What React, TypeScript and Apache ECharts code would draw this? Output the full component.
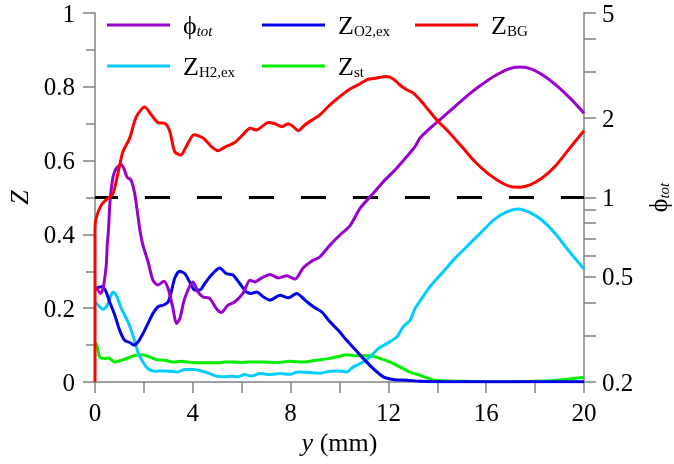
import React, { useEffect, useRef } from "react";
import * as echarts from "echarts";

const FONT = "Liberation Serif";

// y (mm) positions and values
const bgX = [0, 0, 0.01, 0.26, 0.53, 0.74, 0.94, 1.14, 1.42, 1.69, 2.03, 2.3, 2.58, 2.85, 3.06, 3.26, 3.51, 3.73, 4.05, 4.42, 4.76, 5.03, 5.3, 5.71, 6.05, 6.34, 6.61, 6.82, 7.09, 7.36, 7.64, 7.91, 8.11, 8.31, 8.59, 8.93, 9.2, 9.61, 10.02, 10.43, 10.84, 11.11, 11.52, 11.93, 12.2, 12.47, 12.75, 13.02, 13.29, 13.63, 14.04, 14.45, 15.0, 15.54, 16.09, 16.63, 17.04, 17.38, 17.79, 18.27, 18.81, 19.36, 20];
const bgY = [0, 0.4, 0.43, 0.48, 0.498, 0.511, 0.566, 0.624, 0.661, 0.719, 0.745, 0.724, 0.703, 0.701, 0.679, 0.624, 0.615, 0.638, 0.67, 0.661, 0.638, 0.627, 0.636, 0.649, 0.67, 0.688, 0.683, 0.692, 0.703, 0.7, 0.692, 0.7, 0.692, 0.681, 0.697, 0.712, 0.724, 0.751, 0.774, 0.794, 0.808, 0.819, 0.824, 0.828, 0.821, 0.805, 0.792, 0.783, 0.765, 0.738, 0.706, 0.679, 0.638, 0.597, 0.564, 0.54, 0.529, 0.528, 0.534, 0.552, 0.584, 0.629, 0.681];

const phiX = [0.05, 0.23, 0.33, 0.46, 0.5, 0.55, 0.62, 0.74, 0.87, 1.07, 1.18, 1.32, 1.46, 1.62, 1.76, 1.85, 1.96, 2.17, 2.37, 2.58, 2.82, 2.99, 3.19, 3.33, 3.47, 3.67, 4.01, 4.21, 4.42, 4.69, 4.96, 5.17, 5.44, 5.71, 6.05, 6.34, 6.54, 6.82, 7.16, 7.5, 7.84, 8.18, 8.52, 8.86, 9.2, 9.61, 10.02, 10.43, 10.84, 11.38, 11.79, 12.34, 12.75, 13.09, 13.29, 13.63, 14.18, 14.72, 15.27, 15.81, 16.36, 16.9, 17.38, 17.86, 18.4, 18.95, 19.5, 20];
const phiY = [0.459, 0.433, 0.452, 0.554, 0.66, 0.75, 0.98, 1.2, 1.29, 1.33, 1.29, 1.19, 1.17, 1.04, 0.846, 0.74, 0.66, 0.571, 0.486, 0.466, 0.482, 0.452, 0.38, 0.333, 0.348, 0.415, 0.479, 0.439, 0.42, 0.415, 0.38, 0.367, 0.391, 0.402, 0.433, 0.486, 0.479, 0.496, 0.511, 0.496, 0.505, 0.491, 0.542, 0.574, 0.596, 0.66, 0.721, 0.782, 0.91, 1.037, 1.148, 1.291, 1.428, 1.559, 1.678, 1.804, 1.998, 2.211, 2.449, 2.673, 2.891, 3.065, 3.119, 3.065, 2.873, 2.619, 2.344, 2.087];

const o2X = [0, 0.05, 0.23, 0.4, 0.6, 0.81, 1.01, 1.21, 1.42, 1.6, 1.76, 1.96, 2.17, 2.37, 2.58, 2.78, 2.99, 3.12, 3.26, 3.46, 3.67, 3.87, 4.08, 4.28, 4.49, 4.76, 5.1, 5.37, 5.64, 5.92, 6.19, 6.39, 6.61, 6.88, 7.16, 7.57, 7.91, 8.25, 8.59, 8.93, 9.27, 9.61, 9.95, 10.29, 10.63, 10.97, 11.38, 11.79, 12.2, 12.75, 13.29, 14, 16, 18, 20];
const o2Y = [0.25, 0.253, 0.258, 0.252, 0.217, 0.181, 0.14, 0.113, 0.107, 0.1, 0.109, 0.131, 0.159, 0.186, 0.204, 0.208, 0.217, 0.244, 0.281, 0.3, 0.294, 0.271, 0.249, 0.249, 0.267, 0.29, 0.309, 0.294, 0.29, 0.267, 0.244, 0.24, 0.244, 0.231, 0.222, 0.235, 0.228, 0.24, 0.222, 0.204, 0.19, 0.163, 0.14, 0.113, 0.089, 0.064, 0.036, 0.014, 0.007, 0.005, 0.002, 0.001, 0.001, 0.001, 0.001];

const h2X = [0.01, 0.19, 0.33, 0.5, 0.74, 0.87, 1.08, 1.35, 1.55, 1.76, 1.96, 2.17, 2.44, 2.78, 3.12, 3.39, 3.67, 4.01, 4.35, 4.69, 4.96, 5.3, 5.57, 5.85, 6.12, 6.39, 6.75, 7.16, 7.57, 7.98, 8.31, 8.72, 9.2, 9.61, 10.02, 10.29, 10.56, 10.91, 11.25, 11.59, 11.93, 12.34, 12.61, 12.88, 13.09, 13.36, 13.7, 14.18, 14.72, 15.27, 15.81, 16.36, 16.84, 17.31, 17.79, 18.27, 18.81, 19.36, 20];
const h2Y = [0.217, 0.204, 0.197, 0.208, 0.244, 0.235, 0.199, 0.163, 0.127, 0.081, 0.054, 0.036, 0.029, 0.03, 0.029, 0.027, 0.034, 0.034, 0.03, 0.023, 0.016, 0.014, 0.016, 0.014, 0.02, 0.016, 0.023, 0.02, 0.023, 0.021, 0.027, 0.026, 0.024, 0.029, 0.03, 0.027, 0.041, 0.052, 0.068, 0.091, 0.104, 0.122, 0.15, 0.167, 0.199, 0.226, 0.258, 0.294, 0.335, 0.371, 0.407, 0.442, 0.461, 0.469, 0.459, 0.439, 0.403, 0.357, 0.306];

const stX = [0, 0.05, 0.19, 0.4, 0.56, 0.81, 1.08, 1.35, 1.62, 1.96, 2.23, 2.5, 2.85, 3.19, 3.53, 3.94, 4.49, 5.03, 5.3, 5.71, 5.98, 6.26, 6.61, 6.88, 7.43, 7.98, 8.52, 9.07, 9.61, 10.02, 10.29, 10.7, 11.25, 11.66, 12.07, 12.47, 12.88, 13.22, 13.56, 13.91, 14.45, 15, 16, 17, 18, 18.8, 19.4, 20];
const stY = [0.1, 0.104, 0.068, 0.064, 0.065, 0.054, 0.059, 0.065, 0.072, 0.074, 0.068, 0.061, 0.059, 0.054, 0.056, 0.053, 0.052, 0.052, 0.054, 0.054, 0.053, 0.054, 0.054, 0.054, 0.053, 0.056, 0.054, 0.059, 0.064, 0.07, 0.074, 0.071, 0.071, 0.064, 0.054, 0.041, 0.027, 0.02, 0.012, 0.005, 0.003, 0.002, 0.001, 0.001, 0.002, 0.004, 0.008, 0.013];

const refX = [0, 20];
const refY = [0.5, 0.5];

const zTicks = [0, 0.2, 0.4, 0.6, 0.8, 1];
const phiTickLabels = [0.2, 0.5, 1, 2, 5];
const phiTickMarks = [0.2, 0.3, 0.4, 0.5, 0.6, 0.7, 0.8, 0.9, 1, 2, 3, 4, 5];

const pairs = (xs: number[], ys: number[]) => xs.map((x, i) => [x, ys[i]]);

const AXIS_GRAY = "#808080";

const rich = {
  m: { fontSize: 26, lineHeight: 26, verticalAlign: "top", fontFamily: FONT, color: "#000", padding: [0, 0, 0, 8] },
  s: { fontSize: 15, lineHeight: 15, verticalAlign: "bottom", fontFamily: FONT, color: "#000", padding: [18, 0, 0, 0] },
  si: { fontSize: 15, lineHeight: 15, verticalAlign: "bottom", fontFamily: FONT, fontStyle: "italic", color: "#000", padding: [18, 0, 0, 0] },
};

const legendLabels: Record<string, string> = {
  "ϕtot": "{m|ϕ}{si|tot}",
  "ZO2,ex": "{m|Z}{s|O2,ex}",
  "ZBG": "{m|Z}{s|BG}",
  "ZH2,ex": "{m|Z}{s|H2,ex}",
  "Zst": "{m|Z}{s|st}",
};

const legendAt = (name: string, left: number, top: number) => ({
  data: [name],
  left,
  top,
  padding: 0,
  icon: "rect",
  itemWidth: 63,
  itemHeight: 3,
  selectedMode: false,
  formatter: (n: string) => legendLabels[n],
  textStyle: { fontFamily: FONT, rich },
});

export default function App() {
  const ref = useRef<HTMLDivElement>(null);
  useEffect(() => {
    document.body.style.margin = "0";
    const chart = echarts.init(ref.current!, null, { renderer: "svg" });
    const lineSeries = (name: string, xs: number[], ys: number[], color: string, yAxisIndex = 0) => ({
      name,
      type: "line",
      yAxisIndex,
      data: pairs(xs, ys),
      showSymbol: false,
      symbol: "none",
      smooth: 0.25,
      lineStyle: { color, width: 3 },
      itemStyle: { color },
      silent: true,
    });
    chart.setOption({
      animation: false,
      textStyle: { fontFamily: FONT },
      grid: { left: 95, right: 90, top: 13, bottom: 82, outerBoundsMode: "none", containLabel: false },
      legend: [
        legendAt("ϕtot", 107, 5),
        legendAt("ZO2,ex", 262, 5),
        legendAt("ZBG", 415, 5),
        legendAt("ZH2,ex", 107, 46),
        legendAt("Zst", 262, 46),
      ],
      xAxis: {
        type: "value",
        min: 0,
        max: 20,
        interval: 4,
        axisLine: { show: true, onZero: false, lineStyle: { color: AXIS_GRAY, width: 1.5 } },
        axisTick: { show: true, length: 11, lineStyle: { color: AXIS_GRAY, width: 1.5 } },
        minorTick: { show: true, splitNumber: 2, length: 11, lineStyle: { color: AXIS_GRAY, width: 1.5 } },
        splitLine: { show: false },
        axisLabel: { fontSize: 25, fontFamily: FONT, color: "#000", margin: 18 },
        name: "{i|y} (mm)",
        nameLocation: "middle",
        nameGap: 45,
        nameTextStyle: {
          fontSize: 26,
          fontFamily: FONT,
          color: "#000",
          rich: {
            i: { fontSize: 26, fontFamily: FONT, fontStyle: "italic", color: "#000" },
          },
        },
      },
      yAxis: [
        {
          type: "value",
          min: zTicks[0],
          max: zTicks[zTicks.length - 1],
          interval: 0.2,
          position: "left",
          axisLine: { show: true, lineStyle: { color: AXIS_GRAY, width: 1.5 } },
          axisTick: { show: true, length: 12, lineStyle: { color: AXIS_GRAY, width: 1.5 } },
          minorTick: { show: true, splitNumber: 2, length: 9, lineStyle: { color: AXIS_GRAY, width: 1.5 } },
          splitLine: { show: false },
          axisLabel: { fontSize: 25, fontFamily: FONT, color: "#000", margin: 20 },
          name: "Z",
          nameLocation: "middle",
          nameRotate: 90,
          nameGap: 62,
          nameTextStyle: { fontSize: 26, fontStyle: "italic", fontFamily: FONT, color: "#000" },
        },
        {
          type: "log",
          logBase: 10,
          min: 0.2,
          max: 5,
          position: "right",
          axisLine: { show: true, lineStyle: { color: AXIS_GRAY, width: 1.5 } },
          axisTick: { show: true, length: 12, customValues: phiTickMarks, lineStyle: { color: AXIS_GRAY, width: 1.5 } },
          splitLine: { show: false },
          axisLabel: {
            fontSize: 25,
            fontFamily: FONT,
            color: "#000",
            margin: 18,
            customValues: phiTickLabels,
            formatter: (v: number) => String(Math.round(v * 10) / 10),
          },
          name: "{p|ϕ}{s|tot}",
          nameLocation: "middle",
          nameRotate: 90,
          nameGap: 61,
          nameTextStyle: {
            fontFamily: FONT,
            rich: {
              p: { fontSize: 26, lineHeight: 26, verticalAlign: "top", fontFamily: FONT, color: "#000" },
              s: { fontSize: 15, lineHeight: 15, verticalAlign: "bottom", fontFamily: FONT, fontStyle: "italic", color: "#000", padding: [12, 0, 0, 0] },
            },
          },
        },
      ],
      series: [
        {
          name: "ref",
          type: "line",
          data: pairs(refX, refY),
          symbol: "none",
          lineStyle: { color: "#000", width: 3, type: [25, 27], dashOffset: 2 },
          silent: true,
        },
        lineSeries("Zst", stX, stY, "#00ee00"),
        lineSeries("ZH2,ex", h2X, h2Y, "#00ccff"),
        lineSeries("ZO2,ex", o2X, o2Y, "#0000ee"),
        lineSeries("ϕtot", phiX, phiY, "#9900cc", 1),
        lineSeries("ZBG", bgX, bgY, "#ff0000"),
      ],
    });
    return () => chart.dispose();
  }, []);
  return <div ref={ref} style={{ position: "fixed", left: 0, top: 0, width: 674, height: 464 }} />;
}
